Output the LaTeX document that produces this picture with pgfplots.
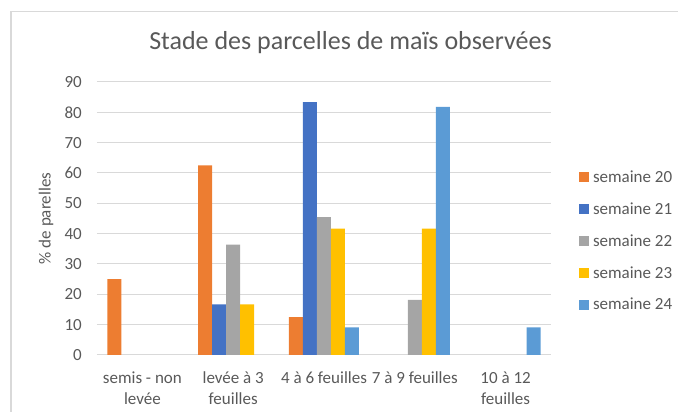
\documentclass[border=0pt]{standalone}
\usepackage{pgfplots}
\pgfplotsset{compat=1.18}
\usepackage{fontspec}
\setmainfont{Carlito}
\definecolor{c20}{HTML}{ED7D31}
\definecolor{c21}{HTML}{4472C4}
\definecolor{c22}{HTML}{A5A5A5}
\definecolor{c23}{HTML}{FFC000}
\definecolor{c24}{HTML}{5B9BD5}
\definecolor{txt}{HTML}{595959}
\definecolor{gridc}{HTML}{D9D9D9}
\begin{document}
\begin{tikzpicture}[x=1pt,y=1pt]
\useasboundingbox (0,0) rectangle (678,412);
\draw[gridc, line width=1.5pt] (11,0) -- (11,400.5) -- (678,400.5);
\node[txt, font=\fontsize{26}{30}\selectfont, anchor=base, inner sep=0pt] at (350.5,362) {Stade des parcelles de maïs observées};
\begin{axis}[
  at={(97pt,57pt)}, anchor=south west,
  scale only axis, width=454pt, height=273pt,
  ymin=0, ymax=90, ytick={0,10,...,90},
  xmin=-0.5, xmax=4.5, xtick={0,1,2,3,4},
  xticklabels={{\strut semis - non\\levée},{\strut levée à 3\\feuilles},{\strut 4 à 6 feuilles},{\strut 7 à 9 feuilles},{\strut 10 à 12\\feuilles}},
  ybar=0pt, bar width=14pt,
  ymajorgrids, grid style={gridc, line width=1pt},
  axis x line*=bottom, axis y line*=left,
  y axis line style={draw=none},
  x axis line style={draw=gridc, line width=1pt, -},
  major tick length=0pt,
  tick label style={txt, font=\fontsize{17}{21}\selectfont},
  /pgf/number format/assume math mode=true,
  yticklabel style={anchor=east, inner sep=0pt, xshift=-15pt},
  xticklabel style={anchor=north, align=center, inner sep=0pt, yshift=-13.3pt},
  ylabel={\% de parelles},
  ylabel style={txt, font=\fontsize{17}{21}\selectfont, at={(axis description cs:-0.1123,0.5)}, anchor=center},
  legend style={draw=none, fill=none, inner sep=0pt, outer sep=0pt,
    at={(axis description cs:1.0617,0.4176)}, anchor=west,
    row sep=21pt, column sep=4pt, font=\fontsize{17}{21}\selectfont, text=txt,
    nodes={inner sep=0pt, text height=10.8pt, text depth=0pt}},
  legend cell align=left,
  legend image code/.code={\path[#1, draw=none] (0pt,-5pt) rectangle (10pt,5pt);},
  every axis plot/.append style={draw=none},
]
\addplot[fill=c20] coordinates {(0,25) (1,62.5) (2,12.5)};
\addplot[fill=c21] coordinates {(1,16.67) (2,83.33)};
\addplot[fill=c22] coordinates {(1,36.36) (2,45.45) (3,18.18)};
\addplot[fill=c23] coordinates {(1,16.67) (2,41.67) (3,41.67)};
\addplot[fill=c24] coordinates {(2,9.09) (3,81.82) (4,9.09)};
\legend{semaine 20,semaine 21,semaine 22,semaine 23,semaine 24}
\end{axis}
\end{tikzpicture}
\end{document}
